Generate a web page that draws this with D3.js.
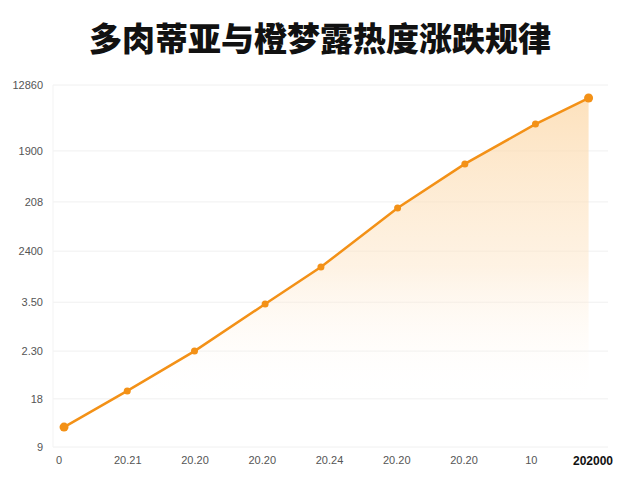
<!DOCTYPE html>
<html>
<head>
<meta charset="utf-8">
<script src="https://cdn.jsdelivr.net/npm/d3@7"></script>
<style>
  body { margin: 0; background: #fff; }
  svg { display: block; }
</style>
</head>
<body>
<script>
// chart data
var title = "多肉蒂亚与橙梦露热度涨跌规律";
var xLabels = ["0", "20.21", "20.20", "20.20", "20.24", "20.20", "20.20", "10", "202000"];
var yTickValues = [0, 13.3, 26.5, 40, 54.1, 67.7, 81.8, 100];
var yTickLabels = ["9", "18", "2.30", "3.50", "2400", "208", "1900", "12860"];
var pointX = [0.06, 1.0, 2.0, 3.05, 3.88, 5.02, 6.02, 7.07, 7.86];
var heat = [5.5, 15.5, 26.5, 39.5, 49.7, 66.0, 78.2, 89.2, 96.4];

var svgWidth = 640;
var svgHeight = 480;
var margin = { top: 85, right: 32, bottom: 33, left: 53 };

var svg = d3.select("body")
    .append("svg")
    .attr("width", svgWidth)
    .attr("height", svgHeight);

// title
svg.append("text")
    .attr("x", 320)
    .attr("y", 51)
    .attr("text-anchor", "middle")
    .style("font-family", "'Noto Sans CJK SC', sans-serif")
    .style("font-weight", 900)
    .style("font-size", "33px")
    .style("fill", "#111")
    .text(title);

var xScale = d3.scaleLinear()
    .domain([0, 8])
    .range([60, 598]);

var yScale = d3.scaleLinear()
    .domain([0, 100])
    .range([svgHeight - margin.bottom, margin.top]);

// grid lines
svg.append("g")
    .attr("class", "grid")
    .selectAll("line")
    .data(yTickValues)
    .enter()
    .append("line")
    .attr("x1", margin.left)
    .attr("x2", svgWidth - margin.right)
    .attr("y1", d => yScale(d))
    .attr("y2", d => yScale(d))
    .attr("stroke", "#f0f0f0")
    .attr("stroke-width", 1);

svg.append("line")
    .attr("x1", margin.left).attr("x2", margin.left)
    .attr("y1", margin.top).attr("y2", svgHeight - margin.bottom)
    .attr("stroke", "#f3f3f3");

// y axis labels
var yAxis = d3.axisLeft(yScale)
    .tickValues(yTickValues)
    .tickFormat((d, i) => yTickLabels[i])
    .tickSize(0)
    .tickPadding(10);
var yG = svg.append("g")
    .attr("transform", `translate(${margin.left},0)`)
    .call(yAxis);
yG.select(".domain").remove();
yG.selectAll("text")
    .style("font-family", "'Liberation Sans', Arial, sans-serif")
    .style("font-size", "11px")
    .style("fill", "#555");

// x axis labels
var xAxis = d3.axisBottom(xScale)
    .tickValues(d3.range(xLabels.length))
    .tickFormat((d, i) => xLabels[i])
    .tickSize(0)
    .tickPadding(9);
var xG = svg.append("g")
    .attr("transform", `translate(0,${svgHeight - margin.bottom})`)
    .call(xAxis);
xG.select(".domain").remove();
xG.selectAll("text")
    .style("font-family", "'Liberation Sans', Arial, sans-serif")
    .style("font-size", "11px")
    .style("fill", "#555");
// first label sits at the left, last label is bold
xG.selectAll(".tick").filter((d, i) => i === 0).attr("transform", "translate(59,0)");
xG.selectAll(".tick").filter((d, i) => i === xLabels.length - 1)
    .attr("transform", "translate(593,0)")
    .select("text")
    .style("font-weight", "bold")
    .style("font-size", "12px")
    .style("fill", "#111");

var points = pointX.map((x, i) => ({ x: x, y: heat[i] }));

// area gradient
var defs = svg.append("defs");
var grad = defs.append("linearGradient")
    .attr("id", "areaGrad")
    .attr("gradientUnits", "userSpaceOnUse")
    .attr("x1", 0).attr("y1", yScale(96))
    .attr("x2", 0).attr("y2", yScale(12));
grad.append("stop").attr("offset", "0%").attr("stop-color", "#fcd8a8").attr("stop-opacity", 0.75);
grad.append("stop").attr("offset", "55%").attr("stop-color", "#fde3c2").attr("stop-opacity", 0.45);
grad.append("stop").attr("offset", "100%").attr("stop-color", "#ffffff").attr("stop-opacity", 0);

var area = d3.area()
    .x(d => xScale(d.x))
    .y0(yScale(0))
    .y1(d => yScale(d.y));

svg.append("path")
    .datum(points)
    .attr("d", area)
    .attr("fill", "url(#areaGrad)");

var line = d3.line()
    .x(d => xScale(d.x))
    .y(d => yScale(d.y));

svg.append("path")
    .datum(points)
    .attr("d", line)
    .attr("fill", "none")
    .attr("stroke", "#f39117")
    .attr("stroke-width", 2.5);

// markers, ends are bigger
svg.selectAll("circle")
    .data(points)
    .enter()
    .append("circle")
    .attr("cx", d => xScale(d.x))
    .attr("cy", d => yScale(d.y))
    .attr("r", (d, i) => (i === 0 || i === points.length - 1) ? 4.5 : 3.5)
    .attr("fill", "#f39117");
</script>
</body>
</html>
